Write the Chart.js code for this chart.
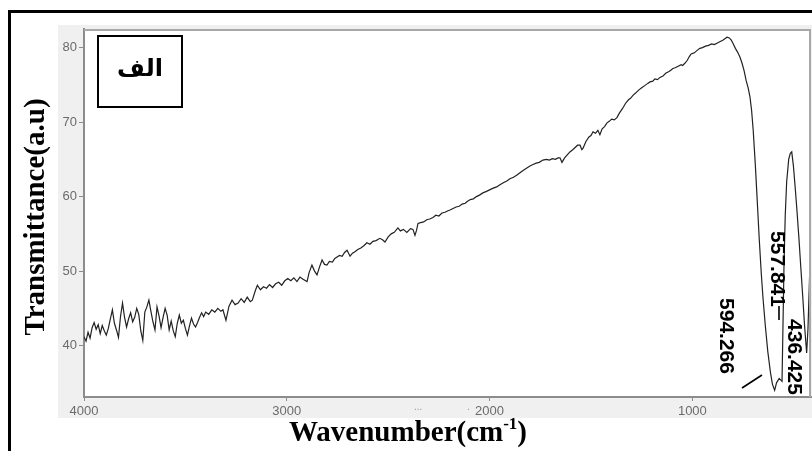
<!DOCTYPE html>
<html lang="fa">
<head>
<meta charset="UTF-8">
<title>FTIR Spectrum</title>
<script src="https://cdn.jsdelivr.net/npm/chart.js"></script>
<style>
    body, html {
        margin: 0;
        padding: 0;
        background: #fff;
    }
    #wrap {
        width: 812px;
        height: 451px;
    }
</style>
</head>
<body>
<div id="wrap"><canvas id="ftirChart" width="812" height="451"></canvas></div>
<script>
// wavenumber (cm-1), high to low
const wavenumber = [
    4000, 3990, 3980, 3970, 3960, 3950, 3940, 3930, 3920, 3910,
    3900, 3890, 3880, 3870, 3860, 3850, 3840, 3830, 3820, 3810,
    3800, 3790, 3780, 3770, 3760, 3750, 3740, 3730, 3720, 3710,
    3700, 3690, 3680, 3670, 3660, 3650, 3640, 3630, 3620, 3610,
    3600, 3590, 3580, 3570, 3560, 3550, 3540, 3530, 3520, 3510,
    3500, 3490, 3480, 3470, 3460, 3450, 3440, 3430, 3420, 3410,
    3400, 3385, 3370, 3355, 3340, 3325, 3315, 3300, 3285, 3270,
    3255, 3240, 3225, 3210, 3195, 3180, 3170, 3155, 3145, 3130,
    3115, 3100, 3085, 3070, 3055, 3040, 3025, 3010, 2995, 2980,
    2965, 2950, 2935, 2920, 2900, 2890, 2876, 2863, 2851, 2838,
    2826, 2814, 2802, 2790, 2775, 2763, 2752, 2740, 2727, 2715,
    2703, 2688, 2676, 2664, 2650, 2635, 2620, 2605, 2590, 2575,
    2560, 2541, 2528, 2516, 2500, 2485, 2470, 2452, 2440, 2425,
    2408, 2390, 2378, 2368, 2360, 2353, 2340, 2325, 2310, 2295,
    2279, 2265, 2250, 2235, 2220, 2205, 2195, 2180, 2165, 2150,
    2135, 2120, 2112, 2095, 2080, 2065, 2050, 2033, 2015, 2000,
    1985, 1965, 1949, 1930, 1915, 1900, 1882, 1865, 1850, 1835,
    1818, 1801, 1786, 1770, 1755, 1737, 1720, 1705, 1690, 1675,
    1663, 1653, 1643, 1630, 1617, 1604, 1590, 1578, 1566, 1554,
    1545, 1539, 1525, 1510, 1500, 1490, 1478, 1466, 1456, 1445,
    1433, 1421, 1410, 1398, 1385, 1372, 1360, 1345, 1330, 1315,
    1305, 1293, 1280, 1265, 1250, 1235, 1220, 1209, 1195, 1185,
    1172, 1160, 1145, 1130, 1115, 1105, 1096, 1085, 1070, 1055,
    1048, 1037, 1025, 1015, 1008, 1002, 990, 978, 963, 950,
    935, 920, 905, 892, 879, 865, 850, 840, 829, 818,
    808, 798, 788, 777, 765, 755, 745, 735, 725, 716,
    708, 700, 690, 681, 670, 660, 652, 640, 628, 615,
    605, 594.266, 585, 572, 557.841, 553, 548, 542, 535, 525,
    517, 510, 502, 494, 485, 475, 465, 455, 446,
    436.425, 430, 424, 419, 415
];

// transmittance (a.u)
const transmittance = [
    41.2, 40.6, 41.8, 41.0, 42.4, 43.1, 42.2, 42.8, 41.6, 42.7,
    42.0, 41.4, 42.3, 43.6, 44.8, 43.0, 42.1, 41.1, 43.9, 45.7,
    43.8, 42.5, 43.6, 44.4, 43.2, 43.8, 45.0, 44.2, 42.0, 40.7,
    44.5, 45.2, 46.1, 44.6, 43.2, 42.1, 45.2, 44.0, 42.4, 43.8,
    45.0, 44.1, 42.1, 43.3, 42.0, 41.2, 43.0, 44.1, 43.0, 43.4,
    42.3, 41.4, 42.6, 43.7, 42.9, 42.5, 43.1, 43.8, 44.4, 43.9,
    44.5, 44.2, 44.8, 44.5, 45.0, 44.6, 44.8, 43.4, 45.3, 46.1,
    45.5, 45.7, 46.3, 45.8, 46.5, 45.9, 46.1, 47.4, 48.1, 47.5,
    47.9, 47.7, 48.2, 47.8, 48.3, 48.5, 48.1, 48.7, 49.0, 48.7,
    49.1, 48.6, 49.2, 48.9, 48.6, 49.8, 50.8, 50.0, 49.5, 50.6,
    51.5, 50.9, 50.8, 51.3, 51.2, 51.7, 51.9, 52.1, 52.0, 52.5,
    52.8, 52.0, 52.4, 52.6, 52.9, 53.1, 53.4, 53.8, 53.6, 54.0,
    54.1, 54.4, 54.2, 53.9, 54.6, 55.0, 55.2, 55.8, 55.4, 55.6,
    55.2, 55.7, 55.6, 54.8, 55.5, 56.4, 56.5, 56.6, 56.9, 57.0,
    57.2, 57.5, 57.4, 57.8, 57.9, 58.1, 58.2, 58.4, 58.6, 58.7,
    59.0, 59.1, 59.3, 59.6, 59.7, 60.0, 60.2, 60.5, 60.7, 60.9,
    61.1, 61.3, 61.6, 61.9, 62.1, 62.4, 62.6, 62.9, 63.2, 63.5,
    63.8, 64.1, 64.3, 64.5, 64.6, 64.9, 65.0, 64.9, 65.1, 65.0,
    65.2, 65.2, 64.6, 65.2, 65.6, 66.0, 66.3, 66.6, 66.9, 66.9,
    66.3, 66.5, 67.4, 68.0, 68.2, 68.7, 68.5, 68.9, 68.3, 69.1,
    69.4, 69.9, 70.1, 70.4, 70.3, 70.6, 71.2, 71.8, 72.5, 73.0,
    73.2, 73.6, 73.9, 74.3, 74.6, 74.9, 75.2, 75.4, 75.5, 75.8,
    75.7, 76.0, 76.2, 76.6, 76.8, 77.0, 77.2, 77.3, 77.5, 77.7,
    77.6, 77.9, 78.3, 78.8, 79.1, 79.2, 79.3, 79.6, 79.9, 80.0,
    80.2, 80.3, 80.5, 80.4, 80.6, 80.8, 81.0, 81.2, 81.4, 81.3,
    81.0, 80.5, 79.9, 79.4, 78.7, 77.9, 76.9, 75.6, 74.6, 73.4,
    71.6, 68.9, 64.5, 59.9, 54.2, 49.6, 46.5, 42.6, 39.2, 36.4,
    34.8, 34.0, 35.0, 35.6, 35.2, 43.0, 51.0, 57.5, 62.0, 65.0,
    65.8, 66.0, 64.2, 61.6, 58.4, 54.6, 50.4, 46.3, 42.4,
    39.0, 42.2, 47.5, 52.0, 55.0
];

const xTicks = [4000, 3000, 2000, 1000];
const yTicks = [40, 50, 60, 70, 80];

// labelled absorption minima
const peakLabels = ['594.266', '557.841', '436.425'];

const panelTag = 'الف';
const yTitle = 'Transmittance(a.u)';
const xTitle = 'Wavenumber(cm';
const xTitleSup = '-1';

// label centres, relative to the peak's x pixel (dx) and absolute y
const peakLabelPlace = [
    { dx: -49, y: 336 },
    { dx: -5, y: 269 },
    { dx: -13, y: 357 }
];

const serif = '"Liberation Serif", "Times New Roman", serif';
const sans = '"Liberation Sans", Arial, sans-serif';

const decor = {
    id: 'decor',
    beforeDraw(chart) {
        const c = chart.ctx;
        const a = chart.chartArea;
        c.save();
        c.fillStyle = '#fff';
        c.fillRect(0, 0, chart.width, chart.height);
        // grey panel behind the plot
        c.fillStyle = '#f0f0f0';
        c.fillRect(58, 25, chart.width - 58, 418 - 25);
        c.fillStyle = '#fff';
        c.fillRect(a.left, a.top, a.right - a.left, a.bottom - a.top);
        // outer black frame
        c.fillStyle = '#000';
        c.fillRect(8, 10, chart.width - 8, 3);
        c.fillRect(8, 10, 3, chart.height - 10);
        c.restore();
    },
    afterDraw(chart) {
        const c = chart.ctx;
        const a = chart.chartArea;
        const xs = chart.scales.x;
        c.save();

        // top and right edges of the plot frame
        c.strokeStyle = '#a8a8a8';
        c.lineWidth = 2;
        c.beginPath();
        c.moveTo(a.left, a.top + 1);
        c.lineTo(a.right, a.top + 1);
        c.moveTo(a.right - 1, a.top);
        c.lineTo(a.right - 1, a.bottom);
        c.stroke();

        // tag box
        c.fillStyle = '#fff';
        c.fillRect(98, 36, 84, 71);
        c.strokeStyle = '#000';
        c.lineWidth = 2;
        c.strokeRect(98, 36, 84, 71);
        c.fillStyle = '#000';
        c.font = 'bold 24px "DejaVu Sans", sans-serif';
        c.textAlign = 'center';
        c.textBaseline = 'middle';
        c.direction = 'rtl';
        c.fillText(panelTag, 140, 70);
        c.direction = 'ltr';

        // peak labels, rotated to read downwards
        c.font = 'bold 21px ' + sans;
        peakLabels.forEach((t, i) => {
            const px = xs.getPixelForValue(parseFloat(t)) + peakLabelPlace[i].dx;
            c.save();
            c.translate(px, peakLabelPlace[i].y);
            c.rotate(Math.PI / 2);
            c.textAlign = 'center';
            c.textBaseline = 'middle';
            c.fillText(t, 0, 0);
            c.restore();
        });
        // leader strokes
        c.strokeStyle = '#000';
        c.lineWidth = 1.6;
        c.beginPath();
        c.moveTo(742, 388);
        c.lineTo(762, 375);
        c.moveTo(779, 306);
        c.lineTo(779, 320);
        c.stroke();

        // y title
        c.save();
        c.translate(44, 217);
        c.rotate(-Math.PI / 2);
        c.font = 'bold 29px ' + serif;
        c.textAlign = 'center';
        c.textBaseline = 'alphabetic';
        c.fillText(yTitle, 0, 0);
        c.restore();

        // x title with superscript
        const mainFont = 'bold 29px ' + serif;
        const supFont = 'bold 17px ' + serif;
        c.textAlign = 'left';
        c.textBaseline = 'alphabetic';
        c.font = mainFont;
        const w1 = c.measureText(xTitle).width;
        const w3 = c.measureText(')').width;
        c.font = supFont;
        const w2 = c.measureText(xTitleSup).width;
        let x0 = 408 - (w1 + w2 + w3) / 2;
        c.font = mainFont;
        c.fillText(xTitle, x0, 441);
        c.font = supFont;
        c.fillText(xTitleSup, x0 + w1, 429);
        c.font = mainFont;
        c.fillText(')', x0 + w1 + w2, 441);

        // stray marks under the axis
        c.fillStyle = '#9a9a9a';
        c.font = '10px ' + sans;
        c.fillText('...', 414, 410);
        c.fillText('.', 467, 410);

        c.restore();
    }
};

const ctx = document.getElementById('ftirChart').getContext('2d');
new Chart(ctx, {
    type: 'line',
    data: {
        datasets: [{
            data: wavenumber.map((w, i) => ({ x: w, y: transmittance[i] })),
            borderColor: '#222',
            borderWidth: 1.2,
            pointRadius: 0,
            tension: 0,
            fill: false
        }]
    },
    options: {
        responsive: false,
        animation: false,
        devicePixelRatio: 1,
        layout: { padding: { top: 29, right: 1, left: 0, bottom: 0 } },
        plugins: {
            legend: { display: false },
            tooltip: { enabled: false }
        },
        scales: {
            x: {
                type: 'linear',
                reverse: true,
                min: 415,
                max: 4000,
                afterBuildTicks: s => { s.ticks = xTicks.map(v => ({ value: v })); },
                afterFit: s => { s.height = 54; },
                grid: { drawOnChartArea: false, drawTicks: true, tickLength: 4, color: '#8c8c8c' },
                border: { display: true, color: '#8c8c8c', width: 2 },
                ticks: {
                    font: { family: 'Liberation Sans', size: 13 },
                    color: '#6b6b6b',
                    padding: 3,
                    maxRotation: 0,
                    callback: v => String(v)
                }
            },
            y: {
                min: 33.1,
                max: 82.5,
                afterBuildTicks: s => { s.ticks = yTicks.map(v => ({ value: v })); },
                afterFit: s => { s.width = 84; },
                grid: { drawOnChartArea: false, drawTicks: true, tickLength: 5, color: '#8c8c8c' },
                border: { display: true, color: '#8c8c8c', width: 2 },
                ticks: {
                    font: { family: 'Liberation Sans', size: 13 },
                    color: '#6b6b6b',
                    padding: 2,
                    callback: v => String(v)
                }
            }
        }
    },
    plugins: [decor]
});
</script>
</body>
</html>
